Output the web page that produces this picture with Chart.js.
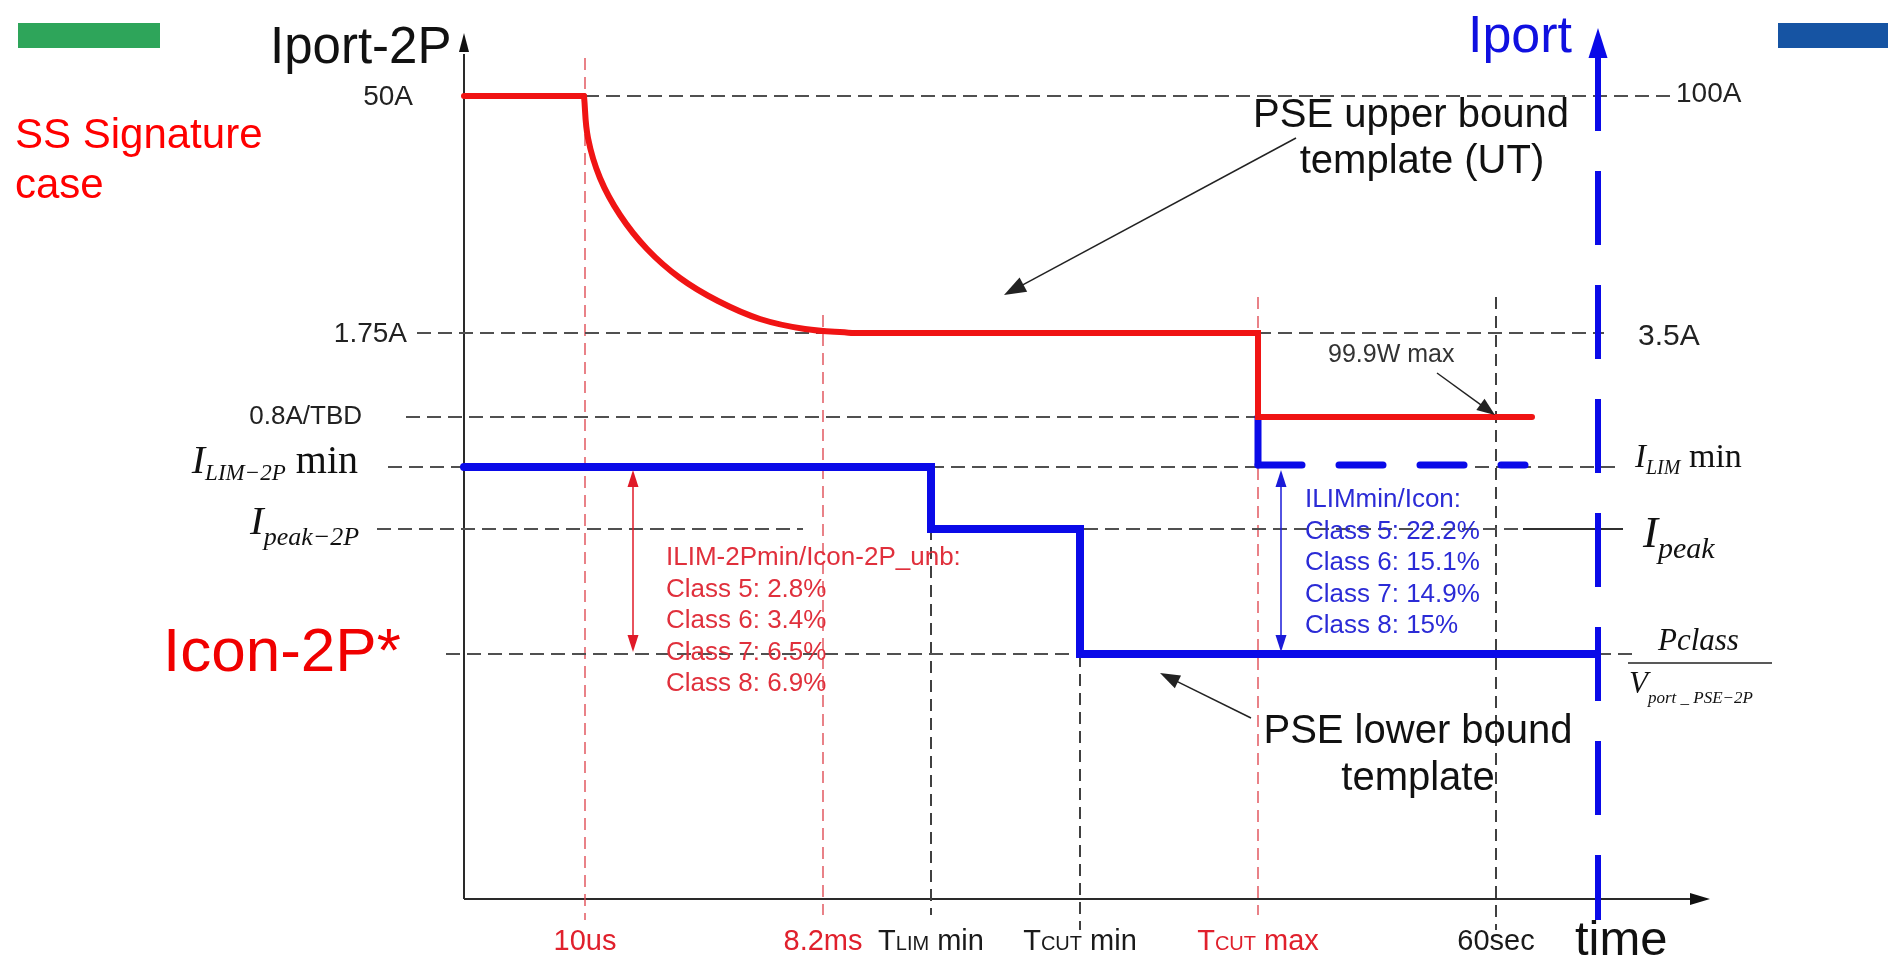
<!DOCTYPE html>
<html>
<head>
<meta charset="utf-8">
<script src="https://cdn.jsdelivr.net/npm/chart.js@4/dist/chart.umd.min.js"></script>
<style>
  html, body { margin: 0; padding: 0; background: #fff; }
  #wrap { width: 1888px; height: 964px; }
</style>
</head>
<body>
<div id="wrap"><canvas id="tpl" width="1888" height="964"></canvas></div>
<script>
// Time markers on the x axis (schematic units)
const timeTicks = [12.1, 35.9, 46.7, 61.6, 79.4, 103.2];
const timeLabels = ['10us', '8.2ms', 'T|LIM| min', 'T|CUT| min', 'T|CUT| max', '60sec'];
const timeColors = ['#e0202c', '#e0202c', '#1a1a1a', '#1a1a1a', '#e0202c', '#1a1a1a'];

// Current levels (schematic units)
const levelNames = ['50A', '1.75A', '0.8A/TBD', 'ILIM-2P min', 'Ipeak-2P', 'Icon-2P'];
const levelValues = [80.3, 56.6, 48.2, 43.2, 37.0, 24.5];
const rightLabels = ['100A', '3.5A'];

// PSE upper bound template (red)
const upperFlatX = [0, 12.0];
const upperFlatY = [80.3, 80.3];
const upperCurveX = [12.0, 12.4, 13.6, 15.6, 18.3, 21.6, 25.4, 29.6, 34.1, 38.8];
const upperCurveY = [80.3, 76.1, 72.1, 68.4, 65.0, 62.1, 59.8, 58.0, 57.0, 56.6];
const upperStepX = [38.8, 79.4, 79.4, 106.8];
const upperStepY = [56.6, 56.6, 48.2, 48.2];

// PSE lower bound template (blue)
const lowerX = [0, 46.7, 46.7, 61.6, 61.6, 113.3];
const lowerY = [43.2, 43.2, 37.0, 37.0, 24.5, 24.5];
const stubX = [79.4, 79.4];
const stubY = [48.2, 43.4];
const ilimDashX = [79.4, 106.1];
const ilimDashY = [43.4, 43.4];

// Iport axis (blue dashed)
const iportX = [113.4, 113.4];
const iportY = [84.2, -2.1];

// Horizontal guide lines: level, from, to
const hGuideY = [80.3, 56.6, 48.2, 43.2, 43.2, 43.2, 37.0, 37.0, 24.5, 24.5];
const hGuideFrom = [12.1, -4.7, -5.8, -7.6, 46.6, 101.1, -8.7, 62.0, -1.8, 113.3];
const hGuideTo = [121.2, 114.0, 79.4, 0, 79.4, 115.8, 33.9, 105.9, 61.5, 117.3];

// Vertical guide lines: time, top, bottom
const vGuideX = [12.1, 35.9, 79.4, 46.7, 61.6, 103.2];
const vGuideTop = [84.1, 58.4, 60.2, 37.1, 24.4, 60.2];
const vGuideBottom = [-2.1, -1.6, -1.6, -1.6, -3.1, -3.1];
const vGuideRed = [true, true, true, false, false, false];

const RED = '#f01414';
const BLUE = '#0a0ae8';
const SANS = '"Liberation Sans", Arial, sans-serif';
const SERIF = '"Liberation Serif", "Times New Roman", serif';

const pts = (xs, ys) => xs.map((x, i) => ({ x: x, y: ys[i] }));

function line(xs, ys, color, width, extra) {
    return Object.assign({
        data: pts(xs, ys),
        showLine: true,
        borderColor: color,
        backgroundColor: color,
        borderWidth: width,
        pointRadius: 0,
        tension: 0,
        clip: false,
        borderCapStyle: 'round',
        borderJoinStyle: 'miter',
        order: 0
    }, extra || {});
}

const datasets = [
    line(upperFlatX, upperFlatY, RED, 6),
    line(upperCurveX, upperCurveY, RED, 6, { tension: 0.4, borderJoinStyle: 'round' }),
    line(upperStepX, upperStepY, RED, 6),
    line(lowerX, lowerY, BLUE, 8),
    line(stubX, stubY, BLUE, 7),
    line(ilimDashX, ilimDashY, BLUE, 7, { borderDash: [44, 37] }),
    line(iportX, iportY, BLUE, 6, { borderDash: [74, 40], borderCapStyle: 'butt' })
];

hGuideY.forEach((y, i) => {
    datasets.push(line([hGuideFrom[i], hGuideTo[i]], [y, y], '#505050', 2,
        { borderDash: [14, 7], borderCapStyle: 'butt', order: 2 }));
});
// solid piece of the Ipeak line next to the Iport axis
datasets.push(line([105.9, 115.9], [37.0, 37.0], '#303030', 2, { borderCapStyle: 'butt', order: 2 }));

vGuideX.forEach((x, i) => {
    datasets.push(line([x, x], [vGuideTop[i], vGuideBottom[i]],
        vGuideRed[i] ? 'rgba(222,70,80,0.85)' : '#404040', vGuideRed[i] ? 1.6 : 2,
        { borderDash: [12, 7], borderCapStyle: 'butt', order: 2 }));
});

// Text helpers
function rich(ctx, x, y, parts, align) {
    let total = 0;
    parts.forEach(p => { ctx.font = p.font; total += ctx.measureText(p.t).width; });
    let cx = x;
    if (align === 'center') cx = x - total / 2;
    if (align === 'right') cx = x - total;
    ctx.textAlign = 'left';
    ctx.textBaseline = 'alphabetic';
    parts.forEach(p => {
        ctx.font = p.font;
        ctx.fillStyle = p.color || ctx.fillStyle;
        ctx.fillText(p.t, cx, y + (p.dy || 0));
        cx += ctx.measureText(p.t).width;
    });
}

function text(ctx, s, x, y, font, color, align, base) {
    ctx.font = font;
    ctx.fillStyle = color;
    ctx.textAlign = align || 'left';
    ctx.textBaseline = base || 'alphabetic';
    ctx.fillText(s, x, y);
}

function head(ctx, x1, y1, x2, y2, len, half, color) {
    const a = Math.atan2(y2 - y1, x2 - x1);
    const c = Math.cos(a), s = Math.sin(a);
    ctx.fillStyle = color;
    ctx.beginPath();
    ctx.moveTo(x2, y2);
    ctx.lineTo(x2 - len * c + half * s, y2 - len * s - half * c);
    ctx.lineTo(x2 - len * c - half * s, y2 - len * s + half * c);
    ctx.closePath();
    ctx.fill();
}

function arrow(ctx, x1, y1, x2, y2, color, w, len, half) {
    const a = Math.atan2(y2 - y1, x2 - x1);
    ctx.strokeStyle = color;
    ctx.lineWidth = w;
    ctx.setLineDash([]);
    ctx.beginPath();
    ctx.moveTo(x1, y1);
    ctx.lineTo(x2 - len * 0.8 * Math.cos(a), y2 - len * 0.8 * Math.sin(a));
    ctx.stroke();
    head(ctx, x1, y1, x2, y2, len, half, color);
}

const axesPlugin = {
    id: 'axesPlugin',
    beforeDatasetsDraw(chart) {
        const ctx = chart.ctx;
        const x0 = chart.scales.x.getPixelForValue(0);
        const y0 = chart.scales.y.getPixelForValue(0);
        ctx.save();
        ctx.strokeStyle = '#2a2a2a';
        ctx.lineWidth = 2;
        ctx.setLineDash([]);
        ctx.beginPath();
        ctx.moveTo(x0, y0);
        ctx.lineTo(x0, chart.scales.y.getPixelForValue(84.5));
        ctx.moveTo(x0, y0);
        ctx.lineTo(chart.scales.x.getPixelForValue(123), y0);
        ctx.stroke();
        head(ctx, x0, y0, x0, chart.scales.y.getPixelForValue(86.6), 19, 5, '#111');
        head(ctx, x0, y0, chart.scales.x.getPixelForValue(124.6), y0, 20, 6, '#111');
        ctx.restore();
    }
};

const labelPlugin = {
    id: 'labelPlugin',
    afterDatasetsDraw(chart) {
        const ctx = chart.ctx;
        const px = v => chart.scales.x.getPixelForValue(v);
        const py = v => chart.scales.y.getPixelForValue(v);
        ctx.save();

        // header bars
        ctx.fillStyle = '#2ea55a';
        ctx.fillRect(18, 23, 142, 25);
        ctx.fillStyle = '#1654a3';
        ctx.fillRect(1778, 23, 110, 25);

        text(ctx, 'SS Signature', 15, 148, '42px ' + SANS, '#ff0000');
        text(ctx, 'case', 15, 198, '42px ' + SANS, '#ff0000');
        text(ctx, 'Icon-2P*', 163, py(levelValues[5]) + 17, '62px ' + SANS, '#f00000');

        text(ctx, 'Iport-2P', 270, 63, '51px ' + SANS, '#111');
        text(ctx, 'Iport', 1468, 52, '52px ' + SANS, '#1010e0');
        head(ctx, px(iportX[0]), py(iportY[0]), px(iportX[0]), 28, 30, 9.5, BLUE);

        // left level labels
        text(ctx, levelNames[0], 413, py(levelValues[0]) + 1, '28px ' + SANS, '#222', 'right', 'middle');
        text(ctx, levelNames[1], 407, py(levelValues[1]) + 1, '28px ' + SANS, '#222', 'right', 'middle');
        text(ctx, levelNames[2], 362, py(levelValues[2]), '26px ' + SANS, '#222', 'right', 'middle');
        ctx.fillStyle = '#111';
        rich(ctx, 358, py(levelValues[3]) + 6, [
            { t: 'I', font: 'italic 40px ' + SERIF },
            { t: 'LIM\u22122P', font: 'italic 23px ' + SERIF, dy: 7 },
            { t: ' min', font: '40px ' + SERIF }
        ], 'right');
        rich(ctx, 250, py(levelValues[4]) + 5, [
            { t: 'I', font: 'italic 41px ' + SERIF },
            { t: 'peak\u22122P', font: 'italic 26px ' + SERIF, dy: 11 }
        ]);

        // right labels
        text(ctx, rightLabels[0], 1676, py(levelValues[0]) - 2, '28px ' + SANS, '#222', 'left', 'middle');
        text(ctx, rightLabels[1], 1638, py(levelValues[1]) + 4, '30px ' + SANS, '#222', 'left', 'middle');
        ctx.fillStyle = '#111';
        rich(ctx, 1635, py(levelValues[3]), [
            { t: 'I', font: 'italic 33px ' + SERIF },
            { t: 'LIM', font: 'italic 20px ' + SERIF, dy: 7 },
            { t: ' min', font: '34px ' + SERIF }
        ]);
        rich(ctx, 1643, py(levelValues[4]) + 18, [
            { t: 'I', font: 'italic 45px ' + SERIF },
            { t: 'peak', font: 'italic 30px ' + SERIF, dy: 11 }
        ]);
        text(ctx, 'Pclass', 1658, py(levelValues[5]) - 4, 'italic 31px ' + SERIF, '#111');
        ctx.strokeStyle = '#222';
        ctx.lineWidth = 1.5;
        ctx.setLineDash([]);
        ctx.beginPath();
        ctx.moveTo(1628, py(levelValues[5]) + 9);
        ctx.lineTo(1772, py(levelValues[5]) + 9);
        ctx.stroke();
        ctx.fillStyle = '#111';
        rich(ctx, 1629, py(levelValues[5]) + 39, [
            { t: 'V', font: 'italic 31px ' + SERIF },
            { t: 'port _ PSE\u22122P', font: 'italic 17px ' + SERIF, dy: 10 }
        ]);

        // time labels
        timeLabels.forEach((lab, i) => {
            const bits = lab.split('|');
            const parts = bits.map((b, k) => ({
                t: b,
                font: (k % 2 === 1 ? '20px ' : '29px ') + SANS,
                color: timeColors[i]
            }));
            rich(ctx, px(timeTicks[i]), 950, parts, 'center');
        });
        text(ctx, 'time', 1575, 955, '49px ' + SANS, '#111');

        // annotations
        text(ctx, 'PSE upper bound', 1411, 127, '40px ' + SANS, '#111', 'center');
        text(ctx, 'template (UT)', 1422, 173, '40px ' + SANS, '#111', 'center');
        arrow(ctx, 1296, 138, 1004, 295, '#222', 1.5, 22, 8);

        text(ctx, 'PSE lower bound', 1418, 743, '40px ' + SANS, '#111', 'center');
        text(ctx, 'template', 1418, 790, '40px ' + SANS, '#111', 'center');
        arrow(ctx, 1251, 718, 1160, 673, '#222', 1.5, 20, 7);

        text(ctx, '99.9W max', 1328, 362, '25px ' + SANS, '#333');
        arrow(ctx, 1437, 373, 1495, 415, '#222', 1.5, 18, 7);

        // ratio blocks
        const redLines = ['ILIM-2Pmin/Icon-2P_unb:', 'Class 5: 2.8%', 'Class 6: 3.4%', 'Class 7: 6.5%', 'Class 8: 6.9%'];
        redLines.forEach((s, i) => text(ctx, s, 666, 565 + i * 31.5, '26px ' + SANS, '#e0303c'));
        const blueLines = ['ILIMmin/Icon:', 'Class 5: 22.2%', 'Class 6: 15.1%', 'Class 7: 14.9%', 'Class 8: 15%'];
        blueLines.forEach((s, i) => text(ctx, s, 1305, 507 + i * 31.5, '26px ' + SANS, '#2b2bd6'));

        // double arrows between ILIM and Icon levels
        const ra = px(16.9), ba = px(81.7);
        [[ra, '#e01a28', 1.5], [ba, '#1a1ad8', 1.5]].forEach(([x, c, w]) => {
            const yT = py(levelValues[3]) + 3, yB = py(levelValues[5]) - 2;
            ctx.strokeStyle = c;
            ctx.lineWidth = w;
            ctx.setLineDash([]);
            ctx.beginPath();
            ctx.moveTo(x, yT + 10);
            ctx.lineTo(x, yB - 10);
            ctx.stroke();
            head(ctx, x, yB, x, yT, 17, 5.5, c);
            head(ctx, x, yT, x, yB, 17, 5.5, c);
        });

        ctx.restore();
    }
};

new Chart(document.getElementById('tpl'), {
    type: 'scatter',
    data: { datasets: datasets },
    options: {
        responsive: false,
        animation: false,
        events: [],
        layout: { padding: { left: 464, right: 174, top: 29, bottom: 65 } },
        plugins: { legend: { display: false }, tooltip: { enabled: false } },
        scales: {
            x: { type: 'linear', min: 0, max: 125, display: false },
            y: { type: 'linear', min: 0, max: 87, display: false }
        }
    },
    plugins: [axesPlugin, labelPlugin]
});
</script>
</body>
</html>
